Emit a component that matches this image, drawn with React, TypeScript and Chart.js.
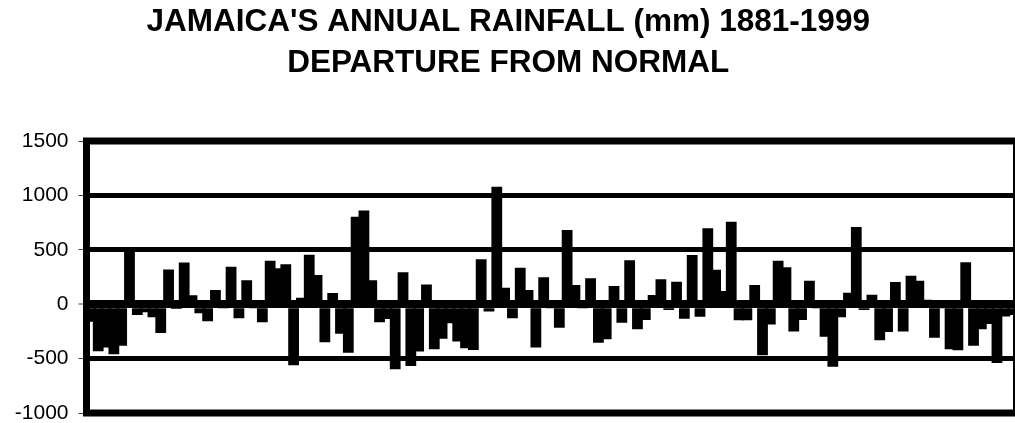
import React, { useEffect, useRef } from "react";
import { Chart, registerables } from "chart.js";

Chart.register(...registerables);

const FIRST_YEAR = 1881;
const LAST_YEAR = 1999;
const years: string[] = [];
for (let y = FIRST_YEAR; y <= LAST_YEAR; y++) years.push(String(y));

const titleLines = ["JAMAICA'S ANNUAL RAINFALL (mm) 1881-1999", "DEPARTURE FROM NORMAL"];

const yTicks = [-1000, -500, 0, 500, 1000, 1500];

// departure from normal (mm), 1881..1999
const departures = [
  -161, -432, -398, -460, -383, 492, -100, -75, -121, -265,
  318, -45, 383, 82, -84, -157, 131, -10, 345, -130,
  220, -35, -167, 400, 330, 367, -562, 60, 455, 268,
  -350, 102, -271, -446, 804, 862, 219, -167, -136, -599,
  293, -568, -434, 180, -414, -317, -176, -342, -406, -421,
  414, -66, 1080, 152, -130, 336, 131, -397, 247, -15,
  -216, 682, 177, -5, 238, -354, -323, 168, -170, 405,
  -231, -145, 85, 229, -53, 207, -133, 452, -115, 697,
  317, 122, 758, -148, -148, 177, -470, -186, 400, 339,
  -252, -145, 216, -10, -299, -574, -121, 106, 709, -53,
  88, -332, -255, 204, -250, 262, 216, 40, -308, -15,
  -413, -423, 386, -382, -230, -182, -541, -112, -100,
];

const FONT = "'Liberation Sans', Arial, Helvetica, sans-serif";

const framePlugin = {
  id: "frame",
  afterDraw(chart: any) {
    const { ctx, chartArea: a } = chart;
    ctx.save();
    ctx.strokeStyle = "#000";
    ctx.lineWidth = 7;
    ctx.strokeRect(a.left, a.top, a.right - a.left, a.bottom - a.top);
    ctx.restore();
  },
};

export default function App() {
  const ref = useRef<HTMLCanvasElement | null>(null);

  useEffect(() => {
    if (!ref.current) return;
    const chart = new Chart(ref.current, {
      type: "bar",
      data: {
        labels: years,
        datasets: [
          {
            data: departures,
            backgroundColor: "#000",
            borderWidth: 0,
            categoryPercentage: 1,
            barPercentage: 1.38,
          } as any,
        ],
      },
      options: {
        animation: false,
        responsive: false,
        devicePixelRatio: 1,
        layout: { padding: { left: 0, right: 23.5, top: 0, bottom: 10 } },
        plugins: {
          legend: { display: false },
          tooltip: { enabled: false },
          title: {
            display: true,
            text: titleLines,
            color: "#000",
            font: { family: FONT, size: 31.5, weight: "bold", lineHeight: 41.6 / 31.5 },
            padding: { top: 1.4, bottom: 56.4 },
          },
        },
        scales: {
          x: {
            display: false,
            offset: true,
            grid: { display: false },
          },
          y: {
            min: -1000,
            max: 1500,
            afterBuildTicks: (scale: any) => {
              scale.ticks = yTicks.map((v) => ({ value: v }));
            },
            ticks: {
              color: "#000",
              font: { family: FONT, size: 21 },
              padding: 10,
              callback: (v: any) => String(v),
            },
            grid: {
              color: "#000",
              lineWidth: (ctx: any) => (ctx.tick && ctx.tick.value === 0 ? 8 : 5),
              drawTicks: true,
              tickLength: 8,
              tickWidth: 1,
              tickColor: "#444",
            },
            border: { display: false },
            afterFit: (s: any) => {
              s.width = 86.5;
              s.paddingTop = 0;
              s.paddingBottom = 0;
            },
          },
        },
      } as any,
      plugins: [framePlugin],
    });
    return () => chart.destroy();
  }, []);

  return (
    <div
      style={{
        position: "fixed",
        left: 0,
        top: 0,
        width: 1015,
        height: 423,
        overflow: "hidden",
        background: "#fff",
      }}
    >
      <canvas ref={ref} width={1040} height={423} style={{ display: "block", width: 1040, height: 423 }} />
    </div>
  );
}
